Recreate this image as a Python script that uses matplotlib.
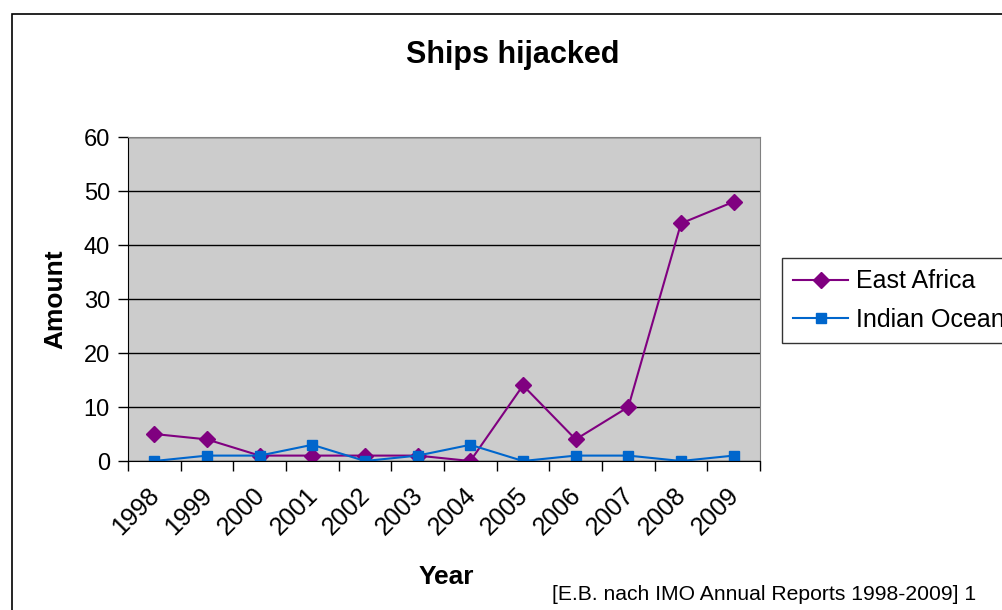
import matplotlib.pyplot as plt
from matplotlib.patches import Rectangle

plt.rcParams['font.family'] = ['Liberation Sans', 'DejaVu Sans']

# data
years = ['1998', '1999', '2000', '2001', '2002', '2003',
         '2004', '2005', '2006', '2007', '2008', '2009']
east_africa = [5, 4, 1, 1, 1, 1, 0, 14, 4, 10, 44, 48]
indian_ocean = [0, 1, 1, 3, 0, 1, 3, 0, 1, 1, 0, 1]

W, H = 1003, 610
fig = plt.figure(figsize=(W / 100, H / 100), dpi=100)

# outer chart frame (cropped on right and bottom like the original)
fig.patches.append(Rectangle((12 / W, -0.05), 1.1, 1 - 14 / H + 0.05,
                             transform=fig.transFigure, fill=False,
                             edgecolor='black', linewidth=1.2))

ax = fig.add_axes([128 / W, 1 - 461 / H, (760 - 128) / W, (461 - 137) / H])
ax.set_facecolor('#CCCCCC')

x = range(len(years))
ax.plot(x, east_africa, color='#800080', marker='D', markersize=8,
        linewidth=1.5, label='East Africa')
ax.plot(x, indian_ocean, color='#0066CC', marker='s', markersize=7.5,
        linewidth=1.5, label='Indian Ocean')

ax.set_xlim(-0.5, len(years) - 0.5)
ax.set_ylim(0, 60)
ax.set_yticks(range(0, 61, 10))
ax.tick_params(axis='y', labelsize=17, length=7, pad=6, direction='out', width=1)
ax.grid(axis='y', color='black', linewidth=1)
ax.set_axisbelow(True)

# category ticks on boundaries, labels at centres
ax.set_xticks([i - 0.5 for i in range(len(years) + 1)])
ax.set_xticklabels([])
ax.tick_params(axis='x', length=7, direction='out', width=1)
for i, y in enumerate(years):
    ax.annotate(y, xy=(i, 0), xycoords=('data', 'axes fraction'),
                xytext=(-5, -16), textcoords='offset points',
                rotation=45, ha='right', va='top', rotation_mode='anchor',
                fontsize=18)

for side in ['top', 'right']:
    ax.spines[side].set_color('#808080')
ax.spines['left'].set_color('black')
ax.spines['bottom'].set_color('black')

fig.text(513 / W, 1 - 55 / H, 'Ships hijacked', ha='center', va='center',
         fontsize=22, fontweight='bold')
fig.text(55 / W, 1 - 299 / H, 'Amount', ha='center', va='center',
         rotation=90, fontsize=19, fontweight='bold')
fig.text(446 / W, 1 - 577 / H, 'Year', ha='center', va='center',
         fontsize=19, fontweight='bold')
fig.text(552 / W, 1 - 594 / H, '[E.B. nach IMO Annual Reports 1998-2009] 1',
         ha='left', va='center', fontsize=15.2)

leg = fig.legend(loc='upper left', bbox_to_anchor=(782 / W, 1 - 258 / H),
                 fontsize=18, frameon=True, fancybox=False, borderpad=0.45,
                 handlelength=2.2, handletextpad=0.3, labelspacing=0.58,
                 borderaxespad=0)
leg.get_frame().set_edgecolor('black')
leg.get_frame().set_linewidth(1)

fig.savefig('out.png', dpi=100)
